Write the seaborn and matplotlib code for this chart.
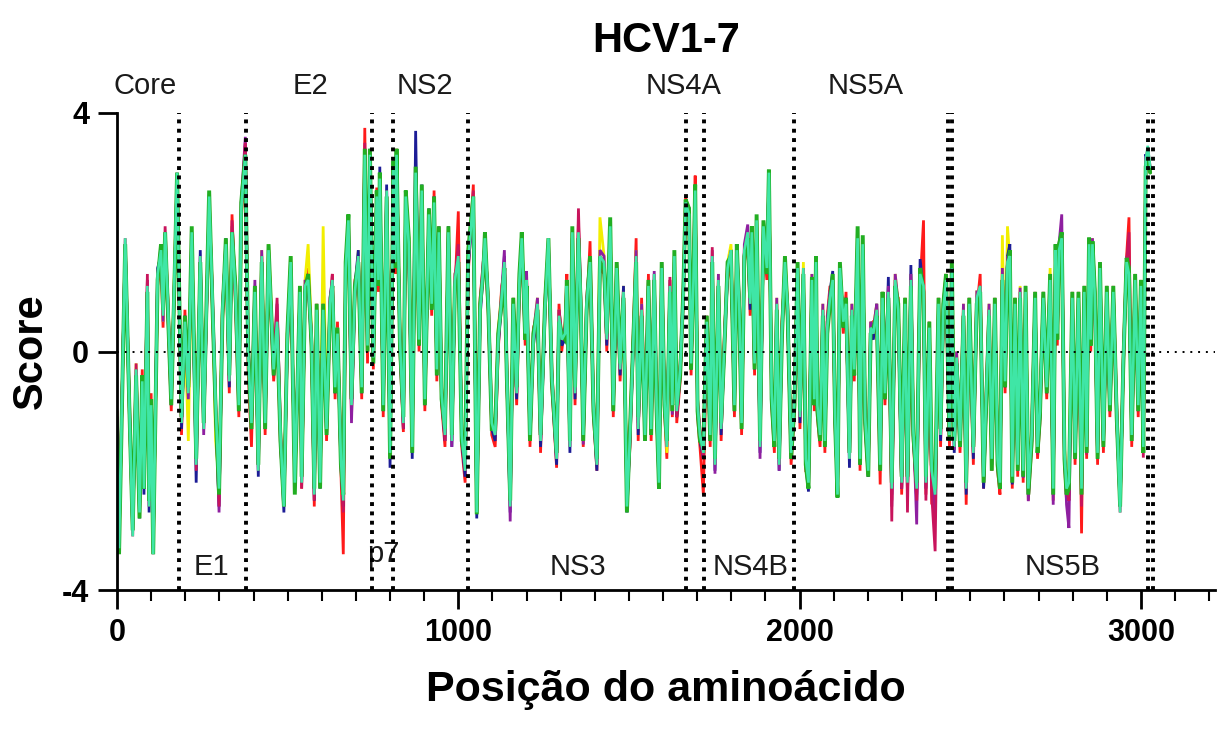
import matplotlib
matplotlib.use("Agg")
import matplotlib.pyplot as plt
from matplotlib.ticker import MultipleLocator
import seaborn as sns
import pandas as pd

# amino-acid positions shared by all genotype profiles
positions = [
    0, 6, 24, 36, 46, 56, 66, 74, 79, 89, 94, 100, 106, 119, 129, 135, 141, 149, 159, 169, 176, 189, 199, 209, 219, 232, 244, 254, 270, 279, 289, 299, 309, 319, 329, 337, 347, 357, 364, 376, 384, 394, 404, 414, 424, 434, 444, 459, 469, 479, 489, 499, 509,
    521, 536, 541, 551, 560, 570, 578, 585, 595, 604, 614, 624, 631, 639, 646, 656, 663, 670, 678, 687, 697, 707, 717, 726, 734, 741, 751, 761, 766, 770, 780, 790, 800, 810, 815, 819, 829, 839, 846, 855, 865, 875, 885, 893, 902, 914, 922, 929, 937, 943, 951, 961, 971, 981, 990, 1000, 1010,
    1020, 1029, 1044, 1054, 1064, 1073, 1078, 1088, 1098, 1108, 1117, 1127, 1135, 1142, 1152, 1161, 1171, 1179, 1186, 1196, 1200, 1210, 1220, 1232, 1241, 1254, 1264, 1274, 1288, 1295, 1303, 1313, 1318, 1327, 1334, 1342, 1352, 1359, 1366, 1376, 1386, 1396, 1406, 1415, 1427, 1435, 1445, 1454, 1464, 1474, 1484, 1494, 1503, 1513, 1521,
    1527, 1537, 1547, 1557, 1565, 1574, 1581, 1588, 1596, 1604, 1611, 1620, 1627, 1633, 1640, 1650, 1659, 1666, 1676, 1682, 1689, 1694, 1701, 1708, 1718, 1728, 1738, 1744, 1752, 1762, 1770, 1780, 1789, 1799, 1809, 1816, 1823, 1830, 1838, 1848, 1855, 1860, 1868, 1874, 1884, 1894, 1904, 1910, 1918, 1926, 1933, 1940, 1948, 1957, 1965, 1975, 1985, 1994, 2001, 2011, 2018, 2026, 2036, 2043,
    2048, 2052, 2060, 2068, 2074, 2081, 2089, 2097, 2104, 2111, 2118, 2128, 2136, 2146, 2153, 2160, 2170, 2177, 2185, 2192, 2201, 2208, 2216, 2226, 2236, 2243, 2250, 2260, 2270, 2280, 2289, 2299, 2309, 2316, 2326, 2333, 2343, 2353, 2363, 2370, 2380, 2387, 2397, 2407, 2413, 2421, 2429, 2439, 2446, 2453, 2460, 2470, 2480, 2488, 2497, 2509, 2519, 2529, 2539,
    2555, 2563, 2572, 2580, 2587, 2594, 2602, 2609, 2616, 2623, 2631, 2639, 2646, 2655, 2662, 2670, 2680, 2690, 2697, 2704, 2714, 2724, 2734, 2743, 2750, 2755, 2760, 2768, 2776, 2782, 2789, 2799, 2807, 2817, 2826, 2834, 2841, 2848, 2853, 2858, 2865, 2873, 2880, 2890, 2900, 2909, 2919, 2929, 2939, 2948, 2958, 2965, 2973, 2983, 2992, 3000, 3007, 3014, 3020, 3027,
]

hcv1 = [
    -1.0, -3.1, 1.7, -0.7, -2.9, -0.5, -2.5, -0.3, -2.1, 1.2, -2.4, -0.7, -3.2, 1.1, 1.5, 0.4, 1.8, 0.6, -1.0, 1.2, 2.8, -1.4, 0.7, -0.9, 1.8, -1.7, 1.4, -1.1, 2.3, 0.8, -1.1, -2.1, 0.5, 1.6, -0.7, 2.3, 0.8, -1.1, 2.2, 3.5, -0.3, -1.6, 0.8, -1.8, 1.4, -1.4, 1.5, -0.5, 0.3, -1.6, -2.4, 0.0, 1.3,
    -2.0, 0.8, -2.3, 0.9, 1.4, 0.0, -2.6, 0.5, -2.0, 0.9, -1.5, 0.6, 1.3, -0.8, 0.5, -2.0, -3.4, 1.2, 2.0, -1.1, 1.2, 1.4, -0.8, 3.75, -0.2, 3.1, -0.3, 2.75, 1.0, 2.7, -1.1, 2.5, -1.5, 2.9, 1.3, 3.4, 0.0, -1.35, 2.4, 1.6, -1.4, 2.8, 0.0, 2.5, -1.0, 2.1, 0.6, 2.7, -0.5, 1.8, -0.9, -1.6, 1.8, -1.3, 1.0, 2.35, -1.6,
    -2.2, 1.3, 2.8, -2.5, 0.9, 1.5, 1.7, 0.6, -1.4, -1.6, 0.0, 1.1, 1.3, -0.5, -2.4, 0.6, -0.9, 1.0, 1.7, 0.1, 1.0, -1.6, 0.4, 0.6, -1.7, 0.9, 1.7, -0.6, -1.95, 0.8, 0.0, 0.5, 1.3, -1.4, 1.8, -0.9, 2.2, 0.6, -1.6, 0.6, 1.85, -1.1, -2.0, 1.4, 1.3, 0.0, 1.9, -1.1, 1.2, -0.5, 0.8, -2.4, -1.6, 0.4, 1.9,
    -1.5, 0.9, -1.2, 1.3, -1.5, 1.1, -1.1, -2.0, 1.2, -1.0, -1.8, 0.9, -1.1, 1.4, -1.2, -0.5, 1.1, 2.6, 2.2, -0.4, 1.4, 2.95, -1.1, -1.6, -2.4, 0.3, -1.6, 1.4, -1.7, 1.0, -1.5, 0.4, 1.2, 1.5, -1.1, 1.5, 0.6, -1.4, 1.5, 1.8, 0.6, 1.8, -0.4, 2.0, -1.4, 1.9, 1.2, 2.8, -0.9, -1.7, 0.6, -1.7, 0.5, 1.3, 0.5, -1.9, -1.0, 1.2, -1.3, 1.2, -2.0, -2.0, 1.0, -1.0,
    1.3, -1.1, -1.6, 0.5, -1.7, 0.6, 1.1, 1.0, -1.3, -2.3, 1.2, 0.3, 1.0, -1.6, 0.5, -0.5, 1.7, -2.0, 1.6, -1.3, -2.1, 0.2, 0.5, 0.5, -2.23, 0.7, -0.9, 0.8, -2.5, 1.0, 0.9, -2.4, 0.6, -2.4, 1.0, -1.5, -2.5, 1.1, 2.2, -2.4, 0.2, -2.55, -2.6, 0.6, -1.6, 0.5, 1.0, -1.6, 1.2, -1.5, -0.3, -1.7, 0.5, -2.57, 0.6, -1.9, 0.7, 1.3, -2.3,
    0.5, -2.0, 0.6, -2.0, -2.4, 1.1, -0.7, 1.3, 1.4, -2.3, 0.6, -2.1, 0.8, -2.2, 0.8, -2.5, -1.6, 0.7, -1.8, -1.2, 0.7, -0.8, 1.0, -2.5, 1.5, 0.1, 1.5, 1.7, -1.9, -2.5, -2.4, 0.7, -1.9, 0.7, -3.05, 0.8, -1.8, 1.6, 0.0, 1.6, 0.7, -1.9, 1.2, -1.7, 0.8, -1.1, 0.8, -1.2, -2.5, -0.4, 1.6, 2.25, -1.6, 1.0, -1.1, 0.9, -1.4, 3.0, 3.3, 3.0,
]

hcv2 = [
    -1.3, -3.2, 1.8, -1.0, -3.0, -0.2, -2.6, -0.6, -2.2, 1.0, -2.5, -1.0, -3.3, 1.2, 1.6, 0.5, 1.9, 0.9, -0.7, 1.5, 2.9, -1.1, 0.4, -1.5, 1.9, -1.8, 1.5, -1.2, 2.5, 1.1, -1.5, -2.2, 0.8, 1.7, -0.4, 2.1, 1.1, -0.8, 2.3, 3.2, 0.1, -1.1, 1.1, -1.9, 1.7, -1.1, 1.8, -0.2, 0.6, -1.3, -2.5, 0.3, 1.6,
    -2.3, 1.1, -2.1, 1.2, 1.8, 0.3, -2.3, 0.8, -2.1, 2.1, -1.2, 0.9, 1.1, -0.5, 0.4, -1.7, -2.4, 1.5, 2.1, -0.8, 0.9, 1.7, -0.5, 3.2, 0.2, 3.2, 0.0, 2.5, 1.3, 2.8, -0.8, 2.6, -1.6, 3.0, 1.6, 3.2, 0.3, -1.1, 2.7, 1.9, -1.5, 2.9, 0.3, 2.6, -0.7, 2.2, 0.9, 2.4, -0.2, 2.1, -0.6, -1.3, 2.1, -1.4, 1.3, 1.5, -1.3,
    -1.9, 1.6, 2.5, -2.6, 0.8, 1.3, 1.8, 0.9, -1.1, -1.3, 0.4, 1.0, 1.4, -0.2, -2.5, 0.9, -0.6, 1.3, 1.8, 0.7, 1.3, -1.3, 0.3, 0.9, -1.4, 0.8, 1.8, -0.3, -1.7, 0.7, 0.3, 0.4, 1.2, -1.5, 1.9, -0.6, 1.9, 0.9, -1.3, 0.9, 1.6, -0.8, -1.8, 2.25, 1.6, 0.3, 2.0, -0.8, 1.5, -0.2, 1.1, -2.5, -1.3, 0.3, 1.7,
    -1.2, 0.8, -1.3, 1.0, -1.2, 1.2, -0.8, -2.1, 1.3, -0.7, -1.7, 1.2, -0.8, 1.5, -0.9, -0.2, 0.8, 2.4, 2.2, -0.1, 1.1, 2.6, -0.8, -1.3, -1.6, 0.6, -1.3, 1.5, -1.8, 1.3, -1.2, 0.3, 1.5, 1.8, -0.8, 1.6, 0.9, -1.1, 1.6, 1.9, 0.9, 1.9, -0.1, 2.1, -1.5, 2.0, 1.3, 2.9, -0.6, -1.4, 0.9, -1.8, 0.4, 1.6, 0.8, -1.6, -0.7, 1.5, -1.0, 1.5, -1.7, -2.1, 1.3, -0.7,
    1.4, -0.8, -1.3, 0.8, -1.4, 0.5, 1.0, 1.1, -1.0, -2.2, 1.3, 0.6, 0.7, -1.7, 0.8, -0.2, 1.8, -1.7, 1.7, -1.0, -1.9, 0.5, 0.4, 0.8, -1.8, 1.0, -0.6, 1.1, -2.2, 1.3, 0.8, -2.1, 0.9, -2.1, 1.3, -1.2, -2.2, 1.4, 1.0, -2.1, 0.5, -1.9, -2.3, 0.9, -1.3, 0.8, 1.3, -1.3, 1.5, -1.5, 0.0, -1.4, 0.8, -2.2, 0.9, -1.6, 1.0, 1.0, -2.0,
    0.8, -1.7, 0.9, -1.7, -2.1, 1.95, -0.4, 2.1, 1.5, -2.0, 0.9, -1.8, 1.1, -1.9, 1.1, -2.2, -1.3, 1.0, -1.5, -0.9, 1.0, -0.5, 1.4, -2.2, 1.8, 0.4, 1.8, 2.0, -1.6, -2.2, -2.1, 1.0, -1.6, 1.0, -2.2, 1.1, -1.5, 1.9, 0.3, 1.9, 1.0, -1.6, 1.5, -1.4, 1.1, -0.8, 1.1, -0.9, -2.6, -0.1, 1.6, 1.4, -1.3, 1.3, -0.8, 1.2, -1.5, 3.1, 3.3, 3.0,
]

hcv3 = [
    -1.1, -3.2, 1.8, -0.8, -3.0, -0.4, -2.8, -0.4, -2.4, 1.0, -2.7, -0.8, -3.3, 1.4, 1.6, 0.7, 1.9, 0.7, -0.9, 1.3, 2.9, -1.3, 0.6, -0.6, 1.9, -2.2, 1.7, -1.2, 2.5, 0.9, -1.0, -2.6, 0.6, 1.9, -0.6, 1.9, 1.1, -1.0, 2.3, 3.4, 0.1, -1.3, 1.1, -2.1, 1.5, -1.3, 1.6, -0.4, 0.6, -1.5, -2.7, 0.1, 1.4,
    -2.1, 1.0, -2.2, 1.0, 1.1, 0.1, -2.5, 0.6, -2.3, 0.6, -1.4, 0.9, 1.2, -0.7, 0.2, -1.9, -2.6, 1.3, 2.3, -1.0, 1.1, 1.7, -0.7, 3.4, 0.0, 3.4, -0.2, 2.7, 1.1, 3.1, -1.0, 2.8, -1.95, 3.2, 1.4, 3.2, 0.1, -1.3, 2.5, 1.7, -1.8, 3.7, 0.1, 2.8, -0.9, 2.4, 0.7, 2.6, -0.4, 1.9, -0.8, -1.5, 2.1, -1.6, 1.1, 1.7, -1.5,
    -2.1, 1.4, 2.5, -2.8, 0.6, 1.3, 1.8, 0.7, -1.3, -1.5, 0.1, 0.8, 1.6, -0.4, -2.7, 0.7, -0.8, 1.1, 1.8, 0.2, 1.1, -1.5, 0.1, 0.7, -1.6, 0.6, 1.8, -0.5, -1.9, 0.5, 0.1, 0.2, 1.0, -1.7, 1.9, -0.8, 1.9, 0.7, -1.5, 0.7, 1.4, -1.0, -2.0, 1.5, 1.4, 0.1, 2.0, -1.0, 1.3, -0.4, 1.1, -2.7, -1.5, 0.1, 1.5,
    -1.4, 0.6, -1.5, 1.0, -1.4, 1.2, -1.0, -2.3, 1.3, -0.9, -1.5, 1.0, -1.0, 1.5, -1.1, -0.4, 0.8, 2.4, 2.4, -0.3, 1.1, 2.6, -1.0, -1.5, -1.8, 0.4, -1.5, 1.5, -2.0, 1.1, -1.4, 0.1, 1.3, 1.6, -1.0, 1.6, 0.7, -1.3, 1.6, 1.9, 0.7, 1.9, -0.3, 2.1, -1.7, 2.0, 1.3, 2.9, -0.8, -1.6, 0.7, -2.0, 0.2, 1.4, 0.6, -1.8, -0.9, 1.3, -1.2, 1.3, -1.9, -2.35, 1.1, -0.9,
    1.3, -1.0, -1.5, 0.6, -1.6, 0.5, 1.0, 1.35, -1.2, -2.3, 1.3, 0.4, 0.9, -1.95, 0.6, -0.4, 1.8, -1.9, 1.7, -1.2, -2.1, 0.3, 0.2, 0.8, -2.0, 0.8, -0.8, 1.25, -2.4, 1.1, 0.6, -2.3, 0.7, -2.3, 1.45, -1.4, -2.4, 1.55, 1.0, -2.3, 0.3, -2.1, -2.5, 0.7, -1.5, 0.6, 1.1, -1.5, 1.3, -1.7, -0.2, -1.6, 0.6, -2.4, 0.7, -1.8, 0.8, 1.0, -2.3,
    0.6, -1.9, 0.7, -1.9, -2.3, 1.2, -0.6, 1.6, 1.8, -2.23, 0.7, -2.0, 0.9, -2.1, 0.9, -2.4, -1.5, 0.96, -1.7, -1.1, 0.8, -0.7, 1.1, -2.4, 1.6, 0.2, 1.6, 2.0, -1.8, -2.4, -2.5, 0.8, -1.8, 0.8, -2.4, 0.9, -1.7, 1.7, 0.1, 1.7, 0.8, -1.8, 1.3, -1.6, 0.9, -1.0, 0.9, -1.1, -2.6, -0.3, 1.4, 1.2, -1.5, 1.1, -1.0, 1.0, -1.7, 3.31, 3.2, 3.0,
]

hcv4 = [
    -1.2, -3.1, 1.8, -1.0, -2.9, -0.3, -2.6, -0.6, -2.2, 1.2, -2.5, -1.0, -3.2, 1.2, 1.8, 0.5, 1.8, 0.9, -0.7, 1.3, 2.8, -1.1, 0.4, -0.8, 1.9, -1.8, 1.5, -1.4, 2.4, 1.1, -0.8, -2.7, 0.8, 1.7, -0.4, 2.1, 0.9, -0.8, 2.5, 3.6, 0.2, -1.1, 1.2, -1.9, 1.7, -1.1, 1.6, -0.2, 0.8, -1.3, -2.5, 0.3, 1.4,
    -2.2, 0.9, -2.1, 1.2, 1.1, 0.3, -2.3, 0.8, -2.1, 0.8, -1.2, 0.7, 1.1, -0.5, 0.4, -1.7, -2.4, 1.5, 2.1, -1.2, 0.9, 1.5, -0.5, 3.2, 0.2, 3.2, 0.0, 2.5, 1.3, 2.8, -0.8, 2.6, -1.6, 3.0, 1.6, 3.2, 0.3, -1.1, 2.7, 1.7, -1.5, 2.9, 0.3, 2.6, -0.7, 2.2, 0.9, 2.4, -0.2, 2.1, -0.6, -1.3, 1.9, -1.6, 1.3, 1.5, -1.3,
    -1.9, 1.6, 2.4, -2.6, 0.8, 1.5, 1.8, 0.9, -1.1, -1.3, 0.3, 1.0, 1.7, -0.2, -2.85, 0.9, -0.6, 1.3, 1.8, 0.4, 1.35, -1.3, 0.3, 0.9, -1.4, 0.8, 1.8, -0.3, -1.7, 0.7, 0.3, 0.4, 1.2, -1.5, 1.9, -0.6, 2.1, 0.9, -1.56, 0.9, 1.6, -0.8, -1.8, 1.7, 1.6, 0.3, 2.0, -0.8, 1.5, -0.2, 1.0, -2.5, -1.3, 0.3, 1.7,
    -1.2, 0.8, -1.3, 1.2, -1.2, 1.35, -0.8, -2.1, 1.5, -0.7, -1.5, 1.2, -1.06, 1.5, -1.0, -0.2, 1.0, 2.4, 2.2, -0.1, 1.3, 2.6, -0.8, -1.3, -1.8, 0.6, -1.3, 1.7, -2.05, 1.3, -1.2, 0.3, 1.5, 1.6, -0.8, 1.8, 0.9, -1.1, 1.8, 2.13, 0.9, 1.9, -0.1, 2.1, -1.8, 2.0, 1.3, 2.9, -0.6, -1.4, 0.9, -2.0, 0.4, 1.4, 0.8, -1.6, -0.7, 1.5, -1.0, 1.3, -1.7, -2.1, 1.3, -0.7,
    1.4, -0.8, -1.3, 0.8, -1.4, 0.5, 1.0, 1.1, -1.0, -2.2, 1.3, 0.6, 0.7, -1.7, 0.8, -0.2, 1.8, -1.7, 1.7, -1.0, -1.9, 0.5, 0.4, 0.8, -1.8, 1.0, -0.6, 1.1, -2.6, 1.3, 0.8, -2.3, 0.9, -2.4, 1.3, -1.2, -2.9, 1.4, 1.0, -2.1, 0.5, -2.2, -2.8, 0.9, -1.3, 0.8, 1.3, -1.3, 1.5, -1.65, 0.0, -1.4, 0.8, -2.2, 0.9, -1.6, 1.0, 1.0, -2.0,
    0.8, -1.7, 0.9, -1.7, -2.1, 1.4, -0.4, 1.6, 1.5, -2.0, 0.9, -1.8, 1.07, -2.12, 1.1, -2.51, -1.3, 1.0, -1.5, -0.9, 1.0, -0.5, 1.3, -2.57, 1.8, 0.4, 1.8, 2.3, -1.6, -2.57, -2.96, 1.0, -1.6, 1.0, -2.2, 1.1, -1.5, 1.9, 0.3, 1.9, 1.0, -1.6, 1.5, -1.4, 1.1, -0.8, 1.1, -0.9, -2.6, -0.1, 1.6, 1.4, -1.3, 1.3, -0.8, 1.2, -1.5, 3.0, 3.3, 3.0,
]

hcv5 = [
    -1.3, -3.3, 1.9, -0.9, -3.1, -0.2, -2.7, -0.5, -2.3, 1.3, -2.6, -0.9, -3.4, 1.3, 1.7, 0.6, 2.1, 0.8, -0.8, 1.4, 3.0, -1.2, 0.5, -0.7, 2.0, -2.0, 1.6, -1.3, 2.6, 1.0, -0.9, -2.6, 0.7, 1.8, -0.5, 2.2, 1.0, -0.9, 2.4, 3.5, 0.0, -1.2, 1.0, -2.0, 1.6, -1.2, 1.7, -0.3, 0.9, -1.4, -2.6, 0.2, 1.5,
    -2.2, 1.0, -2.3, 1.1, 1.3, 0.2, -2.5, 0.7, -2.2, 0.7, -1.3, 0.8, 1.3, -0.6, 0.3, -1.8, -2.7, 1.4, 2.2, -0.9, 1.0, 1.6, -0.6, 3.5, 0.1, 3.3, -0.1, 2.6, 1.2, 2.9, -0.9, 2.7, -1.7, 3.1, 1.5, 3.3, 0.2, -1.3, 2.6, 1.8, -1.6, 3.0, 0.2, 2.7, -0.8, 2.3, 0.8, 2.6, -0.3, 2.0, -0.7, -1.5, 2.0, -1.5, 1.2, 1.8, -1.4,
    -2.0, 1.5, 2.7, -2.7, 0.7, 1.4, 1.9, 0.8, -1.2, -1.4, 0.2, 0.9, 1.5, -0.3, -2.6, 0.8, -0.7, 1.2, 1.9, 0.3, 1.2, -1.4, 0.2, 0.8, -1.5, 0.7, 1.9, -0.4, -1.8, 0.7, 0.2, 0.3, 1.1, -1.6, 2.0, -0.7, 2.4, 0.8, -1.4, 0.8, 1.5, -0.9, -1.9, 1.6, 1.5, 0.2, 2.1, -0.9, 1.4, -0.3, 1.0, -2.6, -1.4, 0.2, 1.6,
    -1.3, 0.7, -1.4, 1.1, -1.3, 1.3, -0.9, -2.2, 1.4, -0.8, -1.6, 1.25, -0.9, 1.6, -1.1, -0.3, 0.9, 2.5, 2.3, -0.2, 1.2, 2.7, -0.9, -1.4, -1.8, 0.5, -1.4, 1.75, -1.9, 1.2, -1.3, 0.2, 1.4, 1.7, -0.9, 1.7, 0.8, -1.2, 1.7, 2.0, 0.8, 2.0, -0.2, 2.2, -1.6, 2.1, 1.4, 3.0, -0.7, -1.5, 0.8, -1.9, 0.3, 1.5, 0.7, -1.7, -0.8, 1.4, -1.1, 1.4, -1.8, -2.2, 1.2, -0.8,
    1.5, -0.9, -1.4, 0.7, -1.5, 0.4, 0.9, 1.2, -1.1, -2.4, 1.4, 0.5, 0.8, -1.8, 0.7, -0.3, 1.9, -1.8, 1.8, -1.1, -2.0, 0.4, 0.3, 0.7, -1.9, 0.9, -0.7, 1.0, -2.85, 1.2, 0.7, -2.3, 0.8, -2.7, 1.2, -1.3, -2.5, 1.3, 1.1, -2.5, 0.4, -2.4, -3.35, 0.8, -1.4, 0.7, 1.2, -1.4, 1.4, -1.6, -0.1, -1.5, 0.7, -2.3, 0.8, -1.7, 0.9, 1.1, -2.1,
    0.7, -1.8, 0.8, -1.8, -2.2, 1.3, -0.5, 1.5, 1.6, -2.1, 0.8, -1.9, 1.0, -2.0, 1.0, -2.3, -1.4, 0.9, -1.73, -1.0, 0.9, -0.6, 1.2, -2.3, 1.7, 0.3, 1.7, 1.9, -1.78, -2.3, -2.5, 0.9, -1.78, 0.9, -2.6, 1.0, -1.73, 1.8, 0.2, 1.8, 0.9, -1.78, 1.46, -1.56, 1.0, -0.9, 1.0, -1.0, -2.7, -0.2, 1.5, 2.0, -1.45, 1.2, -0.9, 1.1, -1.78, 3.2, 3.4, 3.1,
]

hcv6 = [
    -1.5, -3.4, 1.8, -0.9, -3.0, -0.4, -2.8, -0.4, -2.3, 1.0, -2.5, -0.8, -3.4, 1.2, 1.8, 0.7, 2.0, 0.7, -0.9, 1.3, 3.0, -1.1, 0.6, -0.6, 2.1, -1.8, 1.5, -1.2, 2.7, 0.9, -1.0, -2.4, 0.6, 1.9, -0.4, 2.0, 1.1, -1.0, 2.5, 3.3, 0.1, -1.3, 1.1, -1.9, 1.5, -1.3, 1.8, -0.4, 0.4, -1.5, -2.6, 0.3, 1.6,
    -2.4, 1.1, -2.1, 1.0, 1.3, 0.1, -2.3, 0.8, -2.3, 0.8, -1.4, 0.7, 1.1, -0.7, 0.4, -1.9, -2.4, 1.5, 2.3, -0.8, 1.1, 1.5, -0.7, 3.4, 0.0, 3.4, -0.2, 2.7, 1.1, 3.0, -1.0, 2.6, -1.8, 3.2, 1.4, 3.4, 0.1, -1.1, 2.7, 1.9, -1.7, 3.1, 0.1, 2.8, -0.9, 2.4, 0.7, 2.6, -0.4, 2.1, -0.8, -1.3, 2.1, -1.4, 1.1, 1.5, -1.5,
    -1.8, 1.7, 2.6, -2.73, 0.8, 1.3, 2.0, 0.7, -1.3, -1.3, 0.3, 0.8, 1.4, -0.4, -2.5, 0.9, -0.6, 1.3, 2.0, 0.2, 1.1, -1.5, 0.3, 0.7, -1.4, 0.8, 1.9, -0.5, -1.7, 0.5, 0.3, 0.2, 1.2, -1.5, 2.1, -0.6, 1.9, 0.7, -1.5, 0.7, 1.6, -1.0, -1.8, 1.5, 1.4, 0.3, 2.25, -1.0, 1.5, -0.2, 0.9, -2.7, -1.3, 0.3, 1.5,
    -1.1, 0.6, -1.5, 1.2, -1.4, 1.2, -1.0, -2.3, 1.5, -0.9, -1.5, 1.0, -1.0, 1.7, -0.9, -0.4, 1.0, 2.55, 2.4, -0.3, 1.3, 2.8, -1.0, -1.5, -1.6, 0.6, -1.5, 1.5, -1.8, 1.1, -1.2, 0.1, 1.5, 1.6, -1.0, 1.8, 0.7, -1.3, 1.6, 1.9, 0.9, 2.1, -0.3, 2.3, -1.5, 2.2, 1.3, 3.05, -0.8, -1.6, 0.7, -1.8, 0.2, 1.6, 0.6, -1.8, -0.9, 1.5, -1.0, 1.3, -1.9, -2.3, 1.25, -0.9,
    1.6, -1.0, -1.5, 0.6, -1.6, 0.3, 0.8, 1.3, -1.2, -2.45, 1.5, 0.4, 0.9, -1.7, 0.6, -0.4, 2.1, -1.9, 1.95, -1.2, -2.1, 0.3, 0.4, 0.6, -2.0, 1.0, -0.8, 0.9, -2.2, 1.1, 0.8, -2.1, 0.9, -2.1, 1.1, -1.4, -2.2, 1.4, 1.0, -2.1, 0.5, -1.9, -2.3, 0.9, -1.3, 0.8, 1.3, -1.5, 1.5, -1.5, -0.2, -1.6, 0.6, -2.2, 0.9, -1.6, 0.8, 1.0, -2.2,
    0.6, -2.0, 0.9, -1.9, -2.3, 1.2, -0.6, 1.4, 1.7, -2.2, 0.9, -2.0, 0.9, -2.1, 1.1, -2.4, -1.5, 1.0, -1.7, -1.1, 1.0, -0.7, 1.3, -2.4, 1.8, 0.2, 1.8, 2.0, -1.8, -2.4, -2.3, 1.0, -1.8, 1.0, -2.4, 1.1, -1.7, 1.91, 0.1, 1.85, 1.0, -1.8, 1.5, -1.6, 1.1, -1.0, 1.1, -1.1, -2.6, -0.3, 1.57, 1.4, -1.5, 1.3, -1.0, 1.2, -1.7, 3.1, 3.3, 3.0,
]

hcv7 = [
    -1.2, -3.3, 1.9, -0.9, -3.1, -0.3, -2.7, -0.5, -2.3, 1.1, -2.6, -0.9, -3.4, 1.3, 1.7, 0.6, 2.0, 0.8, -0.8, 1.4, 3.0, -1.2, 0.5, -0.7, 2.0, -1.9, 1.6, -1.3, 2.6, 1.0, -0.9, -2.3, 0.7, 1.8, -0.5, 2.0, 1.0, -0.9, 2.4, 3.3, 0.0, -1.2, 1.0, -2.0, 1.6, -1.2, 1.7, -0.3, 0.5, -1.4, -2.6, 0.2, 1.5,
    -2.2, 1.0, -2.2, 1.1, 1.2, 0.2, -2.4, 0.7, -2.2, 0.7, -1.3, 0.8, 1.2, -0.6, 0.3, -1.8, -2.5, 1.4, 2.2, -0.9, 1.0, 1.6, -0.6, 3.3, 0.1, 3.3, -0.1, 2.6, 1.2, 2.9, -0.9, 2.7, -1.7, 3.1, 1.5, 3.3, 0.2, -1.2, 2.6, 1.8, -1.6, 3.0, 0.2, 2.7, -0.8, 2.3, 0.8, 2.5, -0.3, 2.0, -0.7, -1.4, 2.0, -1.5, 1.2, 1.6, -1.4,
    -2.0, 1.5, 2.6, -2.7, 0.7, 1.4, 1.9, 0.8, -1.2, -1.4, 0.2, 0.9, 1.5, -0.3, -2.6, 0.8, -0.7, 1.2, 1.9, 0.3, 1.2, -1.4, 0.2, 0.8, -1.5, 0.7, 1.9, -0.4, -1.8, 0.6, 0.2, 0.3, 1.1, -1.6, 2.0, -0.7, 2.0, 0.8, -1.4, 0.8, 1.5, -0.9, -1.9, 1.6, 1.5, 0.2, 2.1, -0.9, 1.4, -0.3, 1.0, -2.6, -1.4, 0.2, 1.6,
    -1.3, 0.7, -1.4, 1.1, -1.3, 1.3, -0.9, -2.2, 1.4, -0.8, -1.6, 1.1, -0.9, 1.6, -1.0, -0.3, 0.9, 2.5, 2.3, -0.2, 1.2, 2.7, -0.9, -1.4, -1.7, 0.5, -1.4, 1.6, -1.9, 1.2, -1.3, 0.2, 1.4, 1.7, -0.9, 1.7, 0.8, -1.2, 1.7, 2.0, 0.8, 2.0, -0.2, 2.2, -1.6, 2.1, 1.4, 3.0, -0.7, -1.5, 0.8, -1.9, 0.3, 1.5, 0.7, -1.7, -0.8, 1.4, -1.1, 1.4, -1.8, -2.2, 1.2, -0.8,
    1.5, -0.9, -1.4, 0.7, -1.5, 0.4, 0.9, 1.2, -1.1, -2.4, 1.4, 0.5, 0.8, -1.8, 0.7, -0.3, 1.9, -1.8, 1.8, -1.1, -2.0, 0.4, 0.3, 0.7, -1.9, 0.9, -0.7, 1.0, -2.3, 1.2, 0.7, -2.2, 0.8, -2.2, 1.2, -1.3, -2.3, 1.3, 1.1, -2.2, 0.4, -2.0, -2.4, 0.8, -1.4, 0.7, 1.2, -1.4, 1.4, -1.6, -0.1, -1.5, 0.7, -2.3, 0.8, -1.7, 0.9, 1.1, -2.1,
    0.7, -1.8, 0.8, -1.8, -2.2, 1.3, -0.5, 1.5, 1.6, -2.1, 0.8, -1.9, 1.0, -2.0, 1.0, -2.3, -1.4, 0.9, -1.6, -1.0, 0.9, -0.6, 1.2, -2.3, 1.7, 0.3, 1.7, 1.9, -1.7, -2.3, -2.2, 0.9, -1.7, 0.9, -2.3, 1.0, -1.6, 1.8, 0.2, 1.8, 0.9, -1.7, 1.4, -1.5, 1.0, -0.9, 1.0, -1.0, -2.7, -0.2, 1.5, 1.3, -1.4, 1.2, -0.9, 1.1, -1.6, 3.2, 3.45, 3.1,
]

genotypes = ["HCV1", "HCV2", "HCV3", "HCV4", "HCV5", "HCV6", "HCV7"]
genotype_colors = ["#FF1A1A", "#F2EE00", "#1C1C96", "#8E1FA0", "#C8145C", "#22AE22", "#3FE6A6"]

# region boundaries (amino-acid positions of the dotted separators)
boundaries = [182, 378, 748, 810, 1029, 1666, 1720, 1984, 2434, 2447, 3022, 3036]
top_labels = ["Core", "E2", "NS2", "NS4A", "NS5A"]
top_label_x = [82, 568, 902, 1661, 2192]
bottom_labels = ["E1", "p7", "NS3", "NS4B", "NS5B"]
bottom_label_x = [278, 779, 1351, 1855, 2772]
bottom_label_y = [-3.62, -3.4, -3.62, -3.62, -3.62]

all_series = [hcv1, hcv2, hcv3, hcv4, hcv5, hcv6, hcv7]
for name, s in zip(genotypes, all_series):
    assert len(s) == len(positions), (name, len(s), len(positions))

frames = []
for name, s in zip(genotypes, all_series):
    frames.append(pd.DataFrame({"pos": positions, "score": s, "genotype": name}))
df = pd.concat(frames, ignore_index=True)

sns.set_theme(style="ticks")
plt.rcParams["font.family"] = ["Liberation Sans", "DejaVu Sans"]
plt.rcParams["axes.unicode_minus"] = False
plt.rcParams["text.color"] = "black"
plt.rcParams["axes.labelcolor"] = "black"
plt.rcParams["xtick.color"] = "black"
plt.rcParams["ytick.color"] = "black"
plt.rcParams["lines.solid_joinstyle"] = "miter"

fig = plt.figure(figsize=(12.18, 7.34), dpi=100)
ax = fig.add_axes([117 / 1218, 144 / 734, 1098 / 1218, 477 / 734])

sns.lineplot(data=df, x="pos", y="score", hue="genotype", hue_order=genotypes,
             palette=genotype_colors, estimator=None, sort=False, linewidth=2.0,
             legend=False, ax=ax)
series_widths = [2.0, 2.0, 2.0, 2.0, 2.0, 2.8, 1.9]
for line, w in zip(ax.lines[:len(genotypes)], series_widths):
    line.set_linewidth(w)
    line.set_solid_joinstyle("miter")

ax.axhline(0, color="black", lw=1.4, ls=(0, (1, 3)), zorder=5)
for b in boundaries:
    ax.axvline(b, color="black", lw=2.8, ls=(0, (1, 1.4)), zorder=6)

ax.set_xlim(0, 3217)
ax.set_ylim(-4, 4)
ax.set_xticks([0, 1000, 2000, 3000])
ax.set_yticks([-4, 0, 4])
ax.xaxis.set_minor_locator(MultipleLocator(100))
ax.tick_params(axis="both", which="major", length=14, width=2, labelsize=22, pad=6,
               color="black", labelcolor="black")
ax.tick_params(axis="x", which="minor", length=8, width=1.5, color="black")
for lbl in ax.get_xticklabels() + ax.get_yticklabels():
    lbl.set_fontweight("bold")
sns.despine(ax=ax)
for sp in ("left", "bottom"):
    ax.spines[sp].set_linewidth(2)
    ax.spines[sp].set_color("black")

ax.set_xlabel("Posição do aminoácido", fontsize=31, fontweight="bold", labelpad=16, color="black")
ax.set_ylabel("Score", fontsize=30, fontweight="bold", labelpad=8, color="black")
ax.set_title("HCV1-7", fontsize=30, fontweight="bold", pad=44, color="black")

for lab, xv in zip(top_labels, top_label_x):
    ax.text(xv, 4.45, lab, ha="center", va="center", fontsize=21, color="#1a1a1a", clip_on=False)
for lab, xv, yv in zip(bottom_labels, bottom_label_x, bottom_label_y):
    ax.text(xv, yv, lab, ha="center", va="center", fontsize=21, color="#1a1a1a", clip_on=False)

fig.savefig("out.png", dpi=100, facecolor="white")
